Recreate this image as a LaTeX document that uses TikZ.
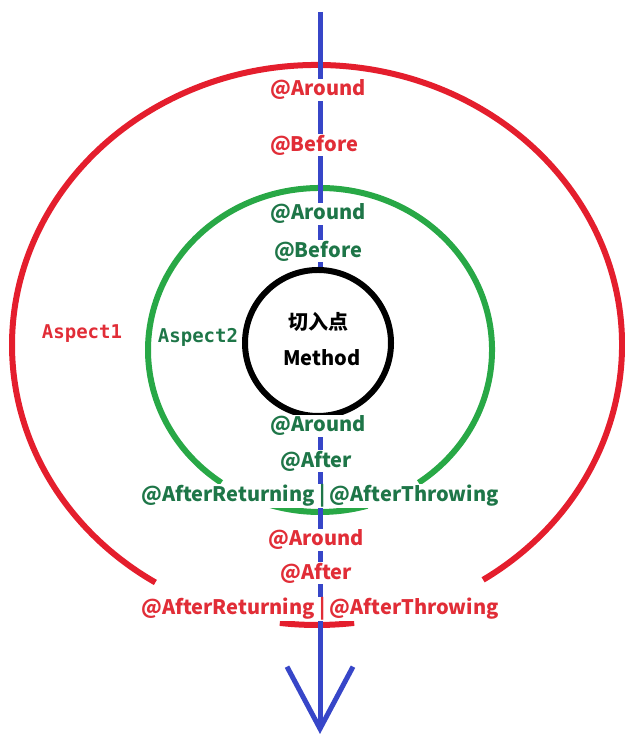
\documentclass[tikz,border=0pt]{standalone}
\usepackage{fontspec}
\usetikzlibrary{arrows.meta}
\newfontfamily\yahei{Noto Sans CJK SC}
\newfontfamily\monofnt{DejaVu Sans Mono}
\definecolor{aspred}{RGB}{228,30,45}
\definecolor{asptxtred}{RGB}{225,45,55}
\definecolor{aspgreen}{RGB}{40,168,70}
\definecolor{asptxtgreen}{RGB}{30,118,72}
\definecolor{flowblue}{RGB}{55,70,200}
\begin{document}
\begin{tikzpicture}[x=1pt,y=1pt]
        \tikzstyle{advice}=[font=\yahei\bfseries\fontsize{20}{22}\selectfont,fill=white,inner sep=1pt]
        \tikzstyle{redadv}=[advice,text=asptxtred]
        \tikzstyle{greenadv}=[advice,text=asptxtgreen]
        \tikzstyle{aspect}=[font=\monofnt\bfseries\fontsize{19}{21}\selectfont,inner sep=1pt]
        \tikzstyle{ring}=[line width=6pt]
        \useasboundingbox (0,0) rectangle (624,738);
       \begin{scope}
         % outer aspect
         \draw[ring,aspred] (317,393) ++(-57:305pt and 280pt) arc[start angle=-57,end angle=238,x radius=305pt,y radius=280pt];
         \draw[ring,aspred] (317,393) ++(263:305pt and 280pt) arc[start angle=263,end angle=277,x radius=305pt,y radius=280pt];
         % inner aspect
         \draw[ring,aspgreen] (320,388) ++(-55:172pt and 162pt) arc[start angle=-55,end angle=235,x radius=172pt,y radius=162pt];
         \draw[ring,aspgreen] (320,388) ++(253:172pt and 162pt) arc[start angle=253,end angle=286,x radius=172pt,y radius=162pt];
         \coordinate (top) at (320,726);
         \coordinate (bottom) at (320,4);
         \draw[flowblue,line width=5pt,-{Straight Barb[length=62pt,width=66pt]}] (top) -- (bottom);
         \node [redadv] (r1) at (318,648) {@Around};
         \node [redadv] (r2) at (314,593) {@Before};
         \node [greenadv] (g1) at (318,524) {@Around};
         \node [greenadv] (g2) at (318,487) {@Before};
         \node [circle,draw=black,fill=white,line width=6pt,minimum size=146pt] (joint) at (318,395) {};
         \node [advice] (cn) at (318,416) {切入点};
         \node [advice] (method) at (322,380) {Method};
         \node [aspect,text=asptxtred] (asp1) at (82,404) {Aspect1};
         \node [aspect,text=asptxtgreen] (asp2) at (198,401) {Aspect2};
         \node [greenadv] (g3) at (318,312) {@Around};
         \node [greenadv] (g4) at (316,277) {@After};
         \node [greenadv] (g5) at (320,242) {@AfterReturning | @AfterThrowing};
         \node [redadv] (r3) at (316,198) {@Around};
         \node [redadv] (r4) at (316,165) {@After};
         \node [redadv] (r5) at (320,129) {@AfterReturning | @AfterThrowing};
        \end{scope}
      \end{tikzpicture}
\end{document}
